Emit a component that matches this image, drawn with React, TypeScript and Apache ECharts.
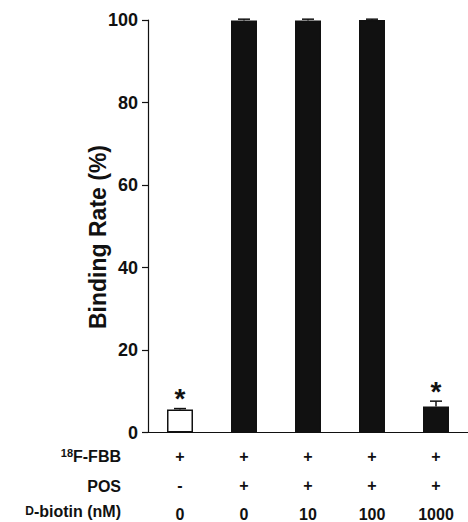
import React, { useEffect, useRef } from "react";
import * as echarts from "echarts";

const categories = ["c1", "c2", "c3", "c4", "c5"];
const bindingRate = [5.6, 99.9, 99.9, 100, 6.3];
const errors = [0.2, 0.3, 0.3, 0.2, 1.3];
const fbbRow = ["+", "+", "+", "+", "+"];
const posRow = ["-", "+", "+", "+", "+"];
const biotinRow = ["0", "0", "10", "100", "1000"];
const significance = ["*", "", "", "", "*"];
const barFills = ["#ffffff", "#111111", "#111111", "#111111", "#111111"];
const yTicks = { min: 0, max: 100, interval: 20 };
const yTitle = "Binding Rate (%)";

const FONT = "'Liberation Sans', Arial, Helvetica, sans-serif";

export default function App() {
  const ref = useRef<HTMLDivElement>(null);
  useEffect(() => {
    document.body.style.margin = "0";
    const chart = echarts.init(ref.current!, null, { renderer: "svg" });
    chart.setOption({
      animation: false,
      backgroundColor: "#ffffff",
      textStyle: { fontFamily: FONT },
      grid: { left: 148, top: 20, width: 325, height: 414 },
      xAxis: {
        type: "category",
        data: categories,
        axisLine: { lineStyle: { color: "#111", width: 1.2 } },
        axisTick: { inside: true, length: 8, lineStyle: { color: "#111", width: 1.2 } },
        axisLabel: {
          interval: 0,
          margin: 9,
          formatter: (_v: string, i: number) =>
            `{r|${fbbRow[i]}}\n{r|${posRow[i]}}\n{r|${biotinRow[i]}}`,
          rich: {
            r: { fontSize: 16, fontWeight: "bold", color: "#111", lineHeight: 29, fontFamily: FONT },
          },
        },
      },
      yAxis: {
        type: "value",
        min: yTicks.min,
        max: yTicks.max,
        interval: yTicks.interval,
        axisLine: { show: true, lineStyle: { color: "#111", width: 1.2 } },
        axisTick: { show: true, length: 6, lineStyle: { color: "#111", width: 1.2 } },
        splitLine: { show: false },
        axisLabel: { fontSize: 18, fontWeight: "bold", color: "#111", margin: 10, fontFamily: FONT },
      },
      graphic: [
        {
          type: "text",
          x: 98,
          y: 237,
          rotation: Math.PI / 2,
          style: {
            text: yTitle,
            fontSize: 23,
            fontWeight: "bold",
            fill: "#111",
            align: "center",
            verticalAlign: "middle",
            fontFamily: FONT,
          },
        },
        {
          type: "text",
          right: 468 - 121,
          top: 447,
          style: {
            text: "{s|18}{b|F-FBB}",
            rich: {
              s: { fontSize: 11, fontWeight: "bold", fill: "#111", verticalAlign: "top", padding: [0, 0, 8, 0], fontFamily: FONT },
              b: { fontSize: 16, fontWeight: "bold", fill: "#111", fontFamily: FONT },
            },
          },
        },
        {
          type: "text",
          right: 468 - 121,
          top: 478,
          style: { text: "POS", fontSize: 16, fontWeight: "bold", fill: "#111", fontFamily: FONT },
        },
        {
          type: "text",
          right: 468 - 121,
          top: 503,
          style: {
            text: "{d|D}{b|-biotin (nM)}",
            rich: {
              d: { fontSize: 12, fontWeight: "bold", fill: "#111", fontFamily: FONT },
              b: { fontSize: 16, fontWeight: "bold", fill: "#111", fontFamily: FONT },
            },
          },
        },
      ],
      series: [
        {
          type: "bar",
          barWidth: 26,
          data: bindingRate.map((v, i) => ({
            value: v,
            itemStyle: { color: barFills[i], borderColor: "#111", borderWidth: 1.5 },
          })),
        },
        {
          type: "custom",
          data: bindingRate.map((v, i) => [i, v, errors[i]]),
          renderItem: (params: any, api: any) => {
            const i = api.value(0);
            const v = api.value(1);
            const e = api.value(2);
            const base = api.coord([i, v]);
            const top = api.coord([i, v + e]);
            const half = 6;
            const children: any[] = [
              { type: "line", shape: { x1: top[0], y1: base[1], x2: top[0], y2: top[1] }, style: { stroke: "#111", lineWidth: 1.5 } },
              { type: "line", shape: { x1: top[0] - half, y1: top[1], x2: top[0] + half, y2: top[1] }, style: { stroke: "#111", lineWidth: 1.5 } },
            ];
            const star = significance[params.dataIndex];
            if (star) {
              children.push({
                type: "text",
                x: top[0],
                y: top[1] + 4,
                style: { text: star, fontSize: 28, fontWeight: "bold", fill: "#111", align: "center", verticalAlign: "bottom", fontFamily: FONT },
              });
            }
            return { type: "group", children };
          },
          z: 5,
        },
      ],
    });
    return () => chart.dispose();
  }, []);
  return <div ref={ref} style={{ width: 468, height: 522 }} />;
}
